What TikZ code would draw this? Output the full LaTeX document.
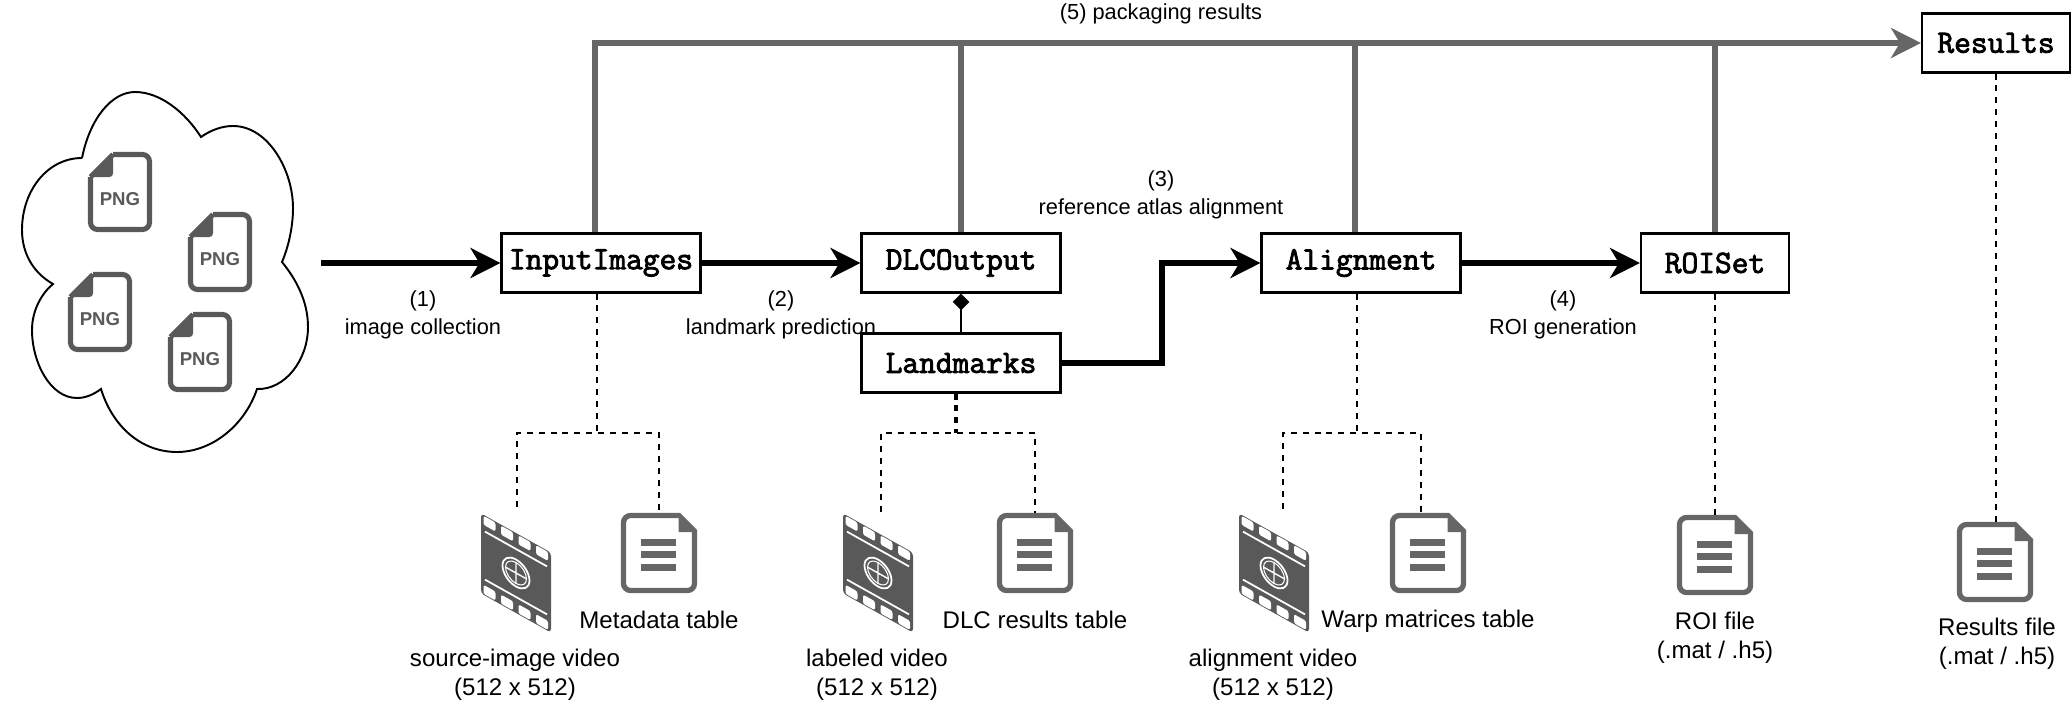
\documentclass[tikz,border=0pt]{standalone}
\usepackage{fontspec}
\setmainfont{Liberation Sans}
\newfontfamily\classfont{Latin Modern Mono}[FakeBold=2.6]
\usetikzlibrary{arrows.meta}

\definecolor{icongray}{HTML}{595959}
\definecolor{linegray}{HTML}{666666}

\tikzset{
  pngfile/.pic={
    \draw[icongray,line width=2.9pt,rounded corners=4pt] (-7,-37.5) -- (29.5,-37.5) -- (29.5,37.5) -- (-29.5,37.5) -- (-29.5,-15);
    \draw[icongray,line width=2.9pt] (-29.5,-15) -- (-7,-37.5);
    \fill[icongray,rounded corners=2pt] (-32,-15) -- (-7,-40) -- (-7,-15) -- cycle;
    \node[text=icongray,font=\fontsize{10.6}{12}\selectfont\bfseries] (-txt) at (0,7) {PNG};
  },
  docfile/.pic={
    \draw[linegray,line width=3pt,rounded corners=4pt] (21,-37.5) -- (-35.5,-37.5) -- (-35.5,37.5) -- (35.5,37.5) -- (35.5,-22);
    \fill[linegray] (21,-40) -- (38,-23) -- (38,-21) -- (19.5,-21) -- (19.5,-40) -- cycle;
    \foreach \by in {-11,1.5,14}
      \fill[linegray] (-18,\by-3.5) rectangle (17,\by+3.5);
  },
  filmfile/.pic={
    \begin{scope}[yslant=-0.56]
      \fill[icongray,rounded corners=2pt] (-35,-40) rectangle (35,40);
      \foreach \fx in {-26.5,-9,8.5,26}
        \foreach \fy in {-34.5,34.5}
          \fill[white,rounded corners=1.2pt] (\fx-6,\fy-4.5) rectangle (\fx+6,\fy+4.5);
      \draw[white,line width=1pt] (-31,-24) -- (31,-24) (-31,24) -- (31,24);
      \draw[white,line width=1pt] (0,0) circle [radius=13.5];
      \draw[white,line width=.6pt] (0,0) circle [radius=10.5];
      \draw[white,line width=.8pt] (-10.5,0) -- (10.5,0) (0,-10.5) -- (0,10.5);
    \end{scope}
  }
}

\begin{document}
\begin{tikzpicture}[x=0.02cm,y=-0.02cm,
        font=\fontsize{12.4}{15.6}\selectfont,
        classbox/.style={draw,fill=white,line width=1.2pt,minimum width=3.98cm,minimum height=1.18cm,inner sep=0pt,font=\fontsize{18.5}{20}\selectfont\classfont},
        flowline/.style={-{Stealth[length=17pt,width=17pt,inset=5pt]},line width=3.2pt},
        packline/.style={line width=3.4pt,draw=linegray},
        fileline/.style={dashed,line width=1.1pt,dash pattern=on 3.4pt off 3.4pt},
        caption/.style={align=center,inner sep=0pt},
        filecaption/.style={caption,font=\fontsize{13.7}{16.4}\selectfont}]
        \useasboundingbox (0,0) rectangle (2072,706);

        % cloud
        \draw[line width=1.1pt,fill=white] (82,158) .. controls (90,118) and (112,92) .. (135,92)
          .. controls (160,92) and (185,112) .. (201,137)
          .. controls (211,130) and (222,126) .. (233,126)
          .. controls (268,126) and (293,170) .. (293,208)
          .. controls (293,228) and (288,248) .. (282,262)
          .. controls (295,278) and (308,300) .. (308,327)
          .. controls (308,360) and (285,390) .. (257,389)
          .. controls (245,425) and (212,452) .. (177,452)
          .. controls (140,452) and (112,425) .. (101,389)
          .. controls (93,395) and (85,398) .. (77,398)
          .. controls (50,398) and (32,362) .. (32,330)
          .. controls (32,310) and (42,293) .. (53,284)
          .. controls (32,272) and (22,252) .. (22,230)
          .. controls (22,190) and (48,158) .. (82,158);
        \pic (png1) at (120,192) {pngfile};
        \pic (png2) at (220,252) {pngfile};
        \pic (png3) at (100,312) {pngfile};
        \pic (png4) at (200,352) {pngfile};

        % nodes
        \node[classbox] (InputImages) at (601,263) {InputImages};
        \node[classbox] (DLCOutput) at (961,263) {DLCOutput};
        \node[classbox] (Landmarks) at (961,363) {Landmarks};
        \node[classbox] (Alignment) at (1361,263) {Alignment};
        \node[classbox,minimum width=2.96cm] (ROISet) at (1715,263) {ROISet};
        \node[classbox,minimum width=2.96cm] (Results) at (1996,43) {Results};

        % icons
        \pic (film1) at (516,573) {filmfile};
        \pic (doc1) at (659,553) {docfile};
        \pic (film2) at (878,573) {filmfile};
        \pic (doc2) at (1035,553) {docfile};
        \pic (film3) at (1274,573) {filmfile};
        \pic (doc3) at (1428,553) {docfile};
        \pic (doc4) at (1715,555) {docfile};
        \pic (doc5) at (1995,562) {docfile};

        \coordinate (cloudout) at (321,263);
        \coordinate (bend) at (1162,363);

        % arrows
        \draw[flowline] (cloudout) -- (InputImages.west);
        \draw[flowline] (InputImages.east) -- (DLCOutput.west);
        \draw[flowline] (Alignment.east) -- (ROISet.west);
        \draw[flowline,line join=miter] (Landmarks.east) -- (bend) |- (Alignment.west);
        \draw[-{Diamond[length=9.5pt,width=9.5pt]},line width=1.1pt] (Landmarks.north) -- (DLCOutput.south);

        \draw[packline,-{Stealth[length=17pt,width=17pt,inset=5pt]}] ([xshift=-0.12cm]InputImages.north) |- (Results.west);
        \draw[packline] (DLCOutput.north) -- (DLCOutput.north |- Results.west);
        \draw[packline] ([xshift=-0.12cm]Alignment.north) -- ([xshift=-0.12cm]Alignment.north |- Results.west);
        \draw[packline] (ROISet.north) -- (ROISet.north |- Results.west);

        % file links
        \coordinate (inputbar) at (597,433);
        \coordinate (markbar) at (956,433);
        \coordinate (alignbar) at (1357,433);
        \coordinate (inputfilm) at (517,507);
        \coordinate (markfilm) at (881,512);
        \coordinate (alignfilm) at (1283,509);
        \draw[fileline] (InputImages.south -| inputbar) -- (inputbar);
        \draw[fileline] (inputfilm) |- (659,433) -- (659,513);
        \draw[fileline,line width=1.9pt] (Landmarks.south -| markbar) -- (markbar);
        \draw[fileline] (markfilm) |- (1035,433) -- (1035,513);
        \draw[fileline] (Alignment.south -| alignbar) -- (alignbar);
        \draw[fileline] (alignfilm) |- (1421,433) -- (1421,513);
        \draw[fileline] (ROISet.south) -- (1715,515);
        \draw[fileline] (Results.south) -- (1996,522);

        % labels
        \node[caption] (packt) at (1161,14) {(5) packaging results};
        \node[caption] (collectt) at (423,315) {(1)\\image collection};
        \node[caption] (predictt) at (781,315) {(2)\\landmark prediction};
        \node[caption] (atlast) at (1161,195) {(3)\\reference atlas alignment};
        \node[caption] (roit) at (1563,315) {(4)\\ROI generation};
        \node[filecaption] (metat) at (659,620) {Metadata table};
        \node[filecaption] (dlct) at (1035,620) {DLC results table};
        \node[filecaption] (warpt) at (1428,621) {Warp matrices table};
        \node[filecaption] (sourcet) at (515,675) {source-image video\\(512 x 512)};
        \node[filecaption] (labelt) at (877,675) {labeled video\\(512 x 512)};
        \node[filecaption] (alignt) at (1273,675) {alignment video\\(512 x 512)};
        \node[filecaption] (roifilet) at (1715,638) {ROI file\\(.mat / .h5)};
        \node[filecaption] (resfilet) at (1997,644) {Results file\\(.mat / .h5)};
      \end{tikzpicture}
\end{document}
